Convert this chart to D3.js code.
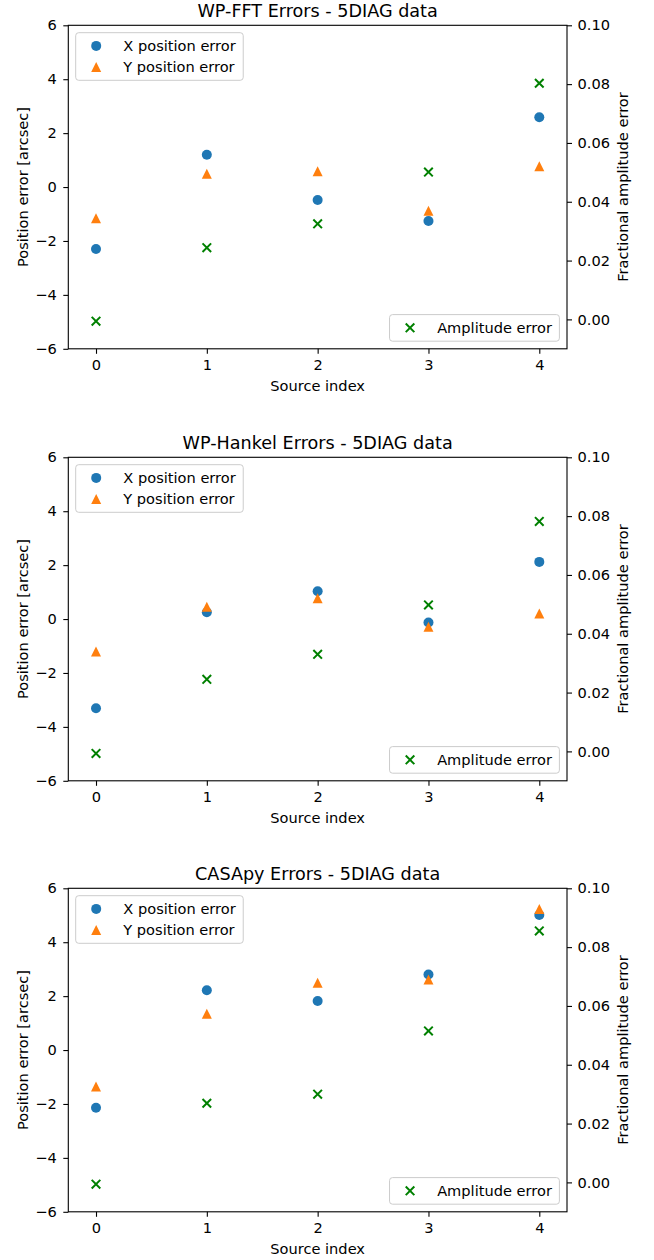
<!DOCTYPE html>
<html>
<head>
<meta charset="utf-8">
<script src="https://cdn.jsdelivr.net/npm/d3@7"></script>
<style>
  body { margin: 0; background: #ffffff; }
  text { font-family: "DejaVu Sans", sans-serif; }
</style>
</head>
<body>
<script>
// source indices on the x axis
const sources = [0, 1, 2, 3, 4];

const panelTitles = [
  "WP-FFT Errors - 5DIAG data",
  "WP-Hankel Errors - 5DIAG data",
  "CASApy Errors - 5DIAG data",
];

// WP-FFT
const fftXErr = [-2.30, 1.20, -0.48, -1.26, 2.59];
const fftYErr = [-1.16, 0.49, 0.59, -0.88, 0.77];
const fftAmpErr = [-0.0006, 0.0244, 0.0325, 0.0501, 0.0803];

// WP-Hankel
const hankelXErr = [-3.31, 0.25, 1.03, -0.13, 2.12];
const hankelYErr = [-1.20, 0.46, 0.77, -0.29, 0.21];
const hankelAmpErr = [-0.0007, 0.0245, 0.0330, 0.0498, 0.0782];

// CASApy
const casaXErr = [-2.14, 2.22, 1.82, 2.80, 5.01];
const casaYErr = [-1.35, 1.35, 2.50, 2.62, 5.23];
const casaAmpErr = [-0.0006, 0.0269, 0.0300, 0.0515, 0.0855];

const posTicks = [-6, -4, -2, 0, 2, 4, 6];
const ampTicks = [0.0, 0.02, 0.04, 0.06, 0.08, 0.10];

const panels = [
  { title: panelTitles[0], xErr: fftXErr, yErr: fftYErr, amp: fftAmpErr },
  { title: panelTitles[1], xErr: hankelXErr, yErr: hankelYErr, amp: hankelAmpErr },
  { title: panelTitles[2], xErr: casaXErr, yErr: casaYErr, amp: casaAmpErr },
];

const width = 654;
const height = 1260;
const plotLeft = 68.3;
const plotRight = 567;
const plotHeight = 323.5;
const panelTops = [25.3, 457.3, 888.3];
const fontSize = 14.6;

const blue = "#1f77b4";
const orange = "#ff7f0e";
const green = "#008000";
const markerR = 5;

const svg = d3
  .select("body")
  .append("svg")
  .attr("width", width)
  .attr("height", height)
  .style("background", "#ffffff");

const x = d3.scaleLinear().domain([-0.25, 4.25]).range([plotLeft, plotRight]);

const trianglePath = (s) => `M0,${-s}L${s},${s}L${-s},${s}Z`;
const crossPath = (s) => `M${-s},${-s}L${s},${s}M${-s},${s}L${s},${-s}`;

function drawCircle(g, cx, cy) {
  g.append("circle")
    .attr("cx", cx)
    .attr("cy", cy)
    .attr("r", markerR)
    .attr("fill", blue);
}

function drawTriangle(g, cx, cy) {
  g.append("path")
    .attr("transform", `translate(${cx},${cy})`)
    .attr("d", trianglePath(5))
    .attr("fill", orange);
}

function drawCross(g, cx, cy) {
  g.append("path")
    .attr("transform", `translate(${cx},${cy})`)
    .attr("d", crossPath(4.3))
    .attr("fill", "none")
    .attr("stroke", green)
    .attr("stroke-width", 2);
}

function styleAxis(g) {
  g.select(".domain").remove();
  g.selectAll(".tick line").attr("stroke", "#000").attr("stroke-width", 1.1);
  g.selectAll(".tick text")
    .attr("fill", "#000")
    .style("font-family", "'DejaVu Sans', sans-serif")
    .style("font-size", fontSize + "px");
}

function drawLegend(g, items, left, top, rowStep) {
  const box = g.append("rect");
  const texts = [];
  items.forEach((item, i) => {
    const cy = top + 13.2 + i * rowStep;
    if (item.kind === "circle") drawCircle(g, left + 20.5, cy);
    if (item.kind === "triangle") drawTriangle(g, left + 20.5, cy);
    if (item.kind === "cross") drawCross(g, left + 20.5, cy);
    const t = g
      .append("text")
      .attr("x", left + 47.6)
      .attr("y", cy)
      .attr("dy", "0.36em")
      .style("font-size", fontSize + "px")
      .text(item.label);
    texts.push(t);
  });
  const maxLen = d3.max(texts, (t) => t.node().getComputedTextLength());
  const w = 47.6 + maxLen + 7.5;
  const h = 26.6 + (items.length - 1) * rowStep;
  box
    .attr("x", left)
    .attr("y", top)
    .attr("width", w)
    .attr("height", h)
    .attr("rx", 3)
    .attr("fill", "rgba(255,255,255,0.8)")
    .attr("stroke", "#cccccc")
    .attr("stroke-width", 1);
  box.lower();
  return w;
}

panels.forEach((p, k) => {
  const top = panelTops[k];
  const bottom = top + plotHeight;
  const g = svg.append("g");

  const yPos = d3.scaleLinear().domain([-6, 6]).range([bottom, top]);
  const yAmp = d3.scaleLinear().domain([-0.01, 0.10]).range([bottom, top]);

  // title
  g.append("text")
    .attr("x", (plotLeft + plotRight) / 2)
    .attr("y", top - 8.5)
    .attr("text-anchor", "middle")
    .style("font-size", "17.6px")
    .text(p.title);

  // axes
  g.append("g")
    .attr("transform", `translate(0,${bottom})`)
    .call(d3.axisBottom(x).tickValues(sources).tickSize(5).tickPadding(6.3).tickFormat(d3.format("d")))
    .call(styleAxis);

  g.append("g")
    .attr("transform", `translate(${plotLeft},0)`)
    .call(
      d3.axisLeft(yPos).tickValues(posTicks).tickSize(5).tickPadding(6.5)
        .tickFormat((d) => (d < 0 ? "\u2212" + Math.abs(d) : String(d))),
    )
    .call(styleAxis);

  g.append("g")
    .attr("transform", `translate(${plotRight},0)`)
    .call(d3.axisRight(yAmp).tickValues(ampTicks).tickSize(5).tickPadding(5.5).tickFormat(d3.format(".2f")))
    .call(styleAxis);

  // axis labels
  g.append("text")
    .attr("x", (plotLeft + plotRight) / 2)
    .attr("y", bottom + 42)
    .attr("text-anchor", "middle")
    .style("font-size", fontSize + "px")
    .text("Source index");

  g.append("text")
    .attr("transform", `translate(22.5,${(top + bottom) / 2}) rotate(-90)`)
    .attr("text-anchor", "middle")
    .attr("dy", "0.36em")
    .style("font-size", fontSize + "px")
    .text("Position error [arcsec]");

  g.append("text")
    .attr("transform", `translate(623,${(top + bottom) / 2}) rotate(-90)`)
    .attr("text-anchor", "middle")
    .attr("dy", "0.36em")
    .style("font-size", fontSize + "px")
    .text("Fractional amplitude error");

  // position error markers (primary axis)
  const marks1 = g.append("g");
  sources.forEach((s, i) => drawCircle(marks1, x(s), yPos(p.xErr[i])));
  sources.forEach((s, i) => drawTriangle(marks1, x(s), yPos(p.yErr[i])));

  const legend1 = g.append("g");
  drawLegend(
    legend1,
    [
      { kind: "circle", label: "X position error" },
      { kind: "triangle", label: "Y position error" },
    ],
    plotLeft + 7.4,
    top + 7.4,
    21,
  );

  // amplitude error markers (secondary axis, drawn above)
  const marks2 = g.append("g");
  sources.forEach((s, i) => drawCross(marks2, x(s), yAmp(p.amp[i])));

  const legend2 = g.append("g");
  const w2 = drawLegend(legend2, [{ kind: "cross", label: "Amplitude error" }], 0, 0, 21);
  legend2.attr("transform", `translate(${plotRight - 7.6 - w2},${bottom - 7.6 - 26.6})`);

  // frame
  g.append("rect")
    .attr("x", plotLeft)
    .attr("y", top)
    .attr("width", plotRight - plotLeft)
    .attr("height", plotHeight)
    .attr("fill", "none")
    .attr("stroke", "#000")
    .attr("stroke-width", 1.1);
});
</script>
</body>
</html>
